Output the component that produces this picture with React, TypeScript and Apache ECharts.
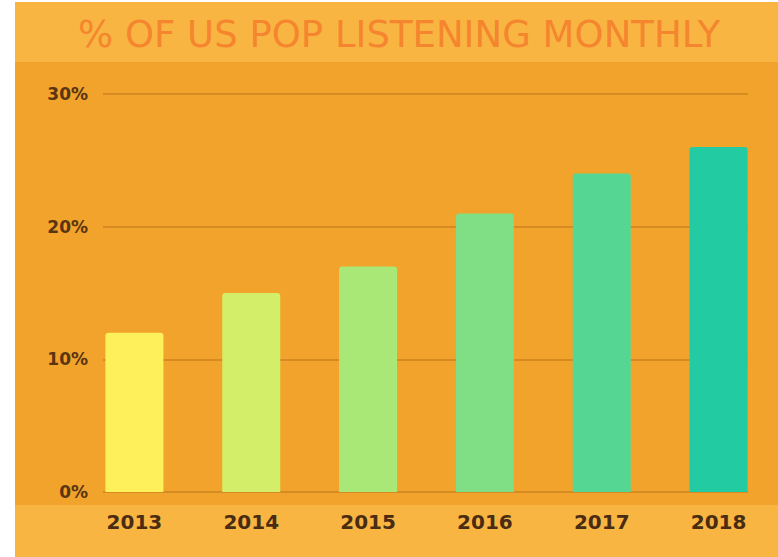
import React, { useEffect, useRef } from "react";
import * as echarts from "echarts";

const categories = ["2013", "2014", "2015", "2016", "2017", "2018"];
const values = [12, 15, 17, 21, 24, 26];
const barColors = ["#FDF05A", "#D3EE68", "#A9E876", "#80DF84", "#55D693", "#22CBA2"];
const yTicks = [0, 10, 20, 30];
const titleText = "% OF US POP LISTENING MONTHLY";

export default function App() {
  const ref = useRef<HTMLDivElement>(null);
  useEffect(() => {
    document.body.style.margin = "0";
    const chart = echarts.init(ref.current!, null, { renderer: "svg" });
    const W = 778;
    const H = 557;
    chart.setOption({
      animation: false,
      backgroundColor: "#ffffff",
      graphic: [
        { type: "rect", z: -10, shape: { x: 15, y: 2, width: W - 15, height: 60 }, style: { fill: "#F9B541" } },
        { type: "rect", z: -10, shape: { x: 15, y: 62, width: W - 15, height: 443 }, style: { fill: "#F2A32B" } },
        { type: "rect", z: -10, shape: { x: 15, y: 505, width: W - 15, height: H - 505 }, style: { fill: "#F9B541" } },
        {
          type: "text",
          x: 399,
          y: 34,
          style: {
            text: titleText,
            fill: "#F5852E",
            font: "normal 37px 'DejaVu Sans'",
            align: "center",
            verticalAlign: "middle",
          },
        },
      ],
      grid: [
        { left: 76, right: 1, top: 94, bottom: 65 },
        { left: 103, right: 30, top: 94, bottom: 65 },
      ],
      xAxis: [
        {
          type: "category",
          data: categories,
          gridIndex: 0,
          axisLine: { show: false },
          axisTick: { show: false },
          axisLabel: {
            margin: 20,
            color: "#4A2C12",
            fontSize: 20,
            fontFamily: "DejaVu Sans",
            fontWeight: "bold",
          },
        },
        { type: "value", gridIndex: 1, show: false, min: 0, max: 1 },
      ],
      yAxis: [
        { type: "value", gridIndex: 0, min: 0, max: 30, show: false },
        {
          type: "value",
          gridIndex: 1,
          min: 0,
          max: 30,
          interval: 10,
          axisLine: { show: false },
          axisTick: { show: false },
          splitLine: { lineStyle: { color: "#D68A22", width: 2 } },
          axisLabel: {
            margin: 15,
            color: "#5A3512",
            fontSize: 17,
            fontFamily: "DejaVu Sans",
            fontWeight: "bold",
            formatter: (v: number) => (yTicks.includes(v) ? v + "%" : ""),
          },
        },
      ],
      series: [
        {
          type: "bar",
          xAxisIndex: 0,
          yAxisIndex: 0,
          barWidth: 58,
          z: 3,
          data: values.map((v, i) => ({
            value: v,
            itemStyle: { color: barColors[i], borderRadius: [3, 3, 0, 0] },
          })),
        },
      ],
    });
    return () => chart.dispose();
  }, []);
  return <div ref={ref} style={{ width: 778, height: 557 }} />;
}
